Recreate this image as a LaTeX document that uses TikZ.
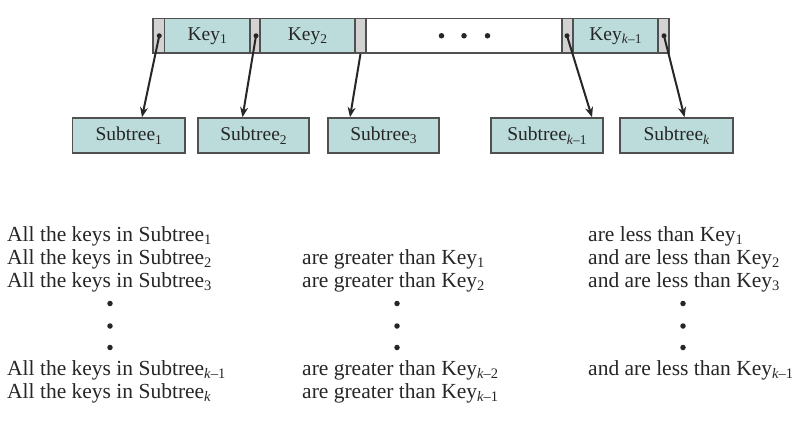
\documentclass[tikz,border=0pt]{standalone}
\usepackage{fontspec}
\setmainfont{Liberation Serif}
\usetikzlibrary{arrows.meta}
\definecolor{keyteal}{HTML}{BCDCDC}
\definecolor{ptrgray}{HTML}{D2D2D2}
\definecolor{edgegray}{HTML}{505050}
\definecolor{inkgray}{HTML}{262626}
\newcommand\lowsub[1]{\raisebox{-0.4ex}{\fontsize{14.5}{15}\selectfont #1}}
\newcommand\boxsub[1]{\raisebox{-0.4ex}{\fontsize{13.5}{14}\selectfont #1}}
\newcommand\kk{\textit{k}}
\tikzset{
  cellbox/.style={draw=edgegray, line width=1.7pt, inner sep=0pt, minimum height=34.5pt,
    font=\fontsize{19.5}{22}\selectfont, text=inkgray},
  keycell/.style={cellbox, fill=keyteal},
  ptrcell/.style={cellbox, fill=ptrgray},
  blankcell/.style={cellbox, fill=white},
  subbox/.style={draw=edgegray, line width=1.7pt, fill=keyteal, inner sep=0pt,
    minimum height=35pt, font=\fontsize{19.5}{22}\selectfont, text=inkgray},
  ptrarrow/.style={draw=inkgray, line width=2pt, -{Stealth[length=10pt,width=8pt]}},
  ptrdot/.style={circle, fill=inkgray, inner sep=0pt, minimum size=5pt},
  bigdot/.style={circle, fill=inkgray, inner sep=0pt, minimum size=5.5pt},
  rowtext/.style={anchor=base west, inner sep=0pt, font=\fontsize{21.5}{24}\selectfont, text=inkgray}
}
\begin{document}
\begin{tikzpicture}[x=1pt,y=-1pt]
\useasboundingbox (0,0) rectangle (811,421);
% top array
\node[ptrcell, minimum width=11.5pt] (p1) at (158.75,35.75) {};
\node[keycell, minimum width=85.5pt] (k1) at (207.25,35.75) {Key\boxsub{1}};
\node[ptrcell, minimum width=10pt] (p2) at (255,35.75) {};
\node[keycell, minimum width=95pt] (k2) at (307.5,35.75) {Key\boxsub{2}};
\node[ptrcell, minimum width=11pt] (p3) at (360.5,35.75) {};
\node[blankcell, minimum width=196pt] (mid) at (464,35.75) {};
\node[ptrcell, minimum width=11pt] (p4) at (567.5,35.75) {};
\node[keycell, minimum width=85pt] (k4) at (615.5,35.75) {Key\boxsub{\kk–1}};
\node[ptrcell, minimum width=11pt] (p5) at (663.5,35.75) {};
% ellipsis in the blank cell
\node[bigdot] (m1) at ([xshift=-22.5pt]mid.center) {};
\node[bigdot] (m2) at (mid.center) {};
\node[bigdot] (m3) at ([xshift=23.5pt]mid.center) {};
% pointer dots
\node[ptrdot] (d1) at ([xshift=0.5pt]p1.center) {};
\node[ptrdot] (d2) at ([xshift=1pt]p2.center) {};
\node[ptrdot] (d4) at ([xshift=-0.5pt]p4.center) {};
\node[ptrdot] (d5) at ([xshift=0.5pt]p5.center) {};
% subtrees
\node[subbox, minimum width=112.5pt] (s1) at (128.75,135.5) {Subtree\boxsub{1}};
\node[subbox, minimum width=111pt] (s2) at (253.5,135.5) {Subtree\boxsub{2}};
\node[subbox, minimum width=111pt] (s3) at (383.5,135.5) {Subtree\boxsub{3}};
\node[subbox, minimum width=112pt] (s4) at (547,135.5) {Subtree\boxsub{\kk–1}};
\node[subbox, minimum width=113pt] (s5) at (676.5,135.5) {Subtree\boxsub{\kk}};
% arrows
\draw[ptrarrow] (d1.center) -- ([xshift=13.25pt]s1.north);
\draw[ptrarrow] (d2.center) -- ([xshift=-11pt]s2.north);
\draw[ptrarrow] (p3.south) -- ([xshift=-33.5pt]s3.north);
\draw[ptrarrow] (d4.center) -- ([xshift=45pt]s4.north);
\draw[ptrarrow] (d5.center) -- ([xshift=8pt]s5.north);
% explanation rows
\node[rowtext] (a1) at (7,241) {All the keys in Subtree\lowsub{1}};
\node[rowtext] (a2) at (7,264) {All the keys in Subtree\lowsub{2}};
\node[rowtext] (a3) at (7,287) {All the keys in Subtree\lowsub{3}};
\node[rowtext] (a4) at (7,375) {All the keys in Subtree\lowsub{\kk–1}};
\node[rowtext] (a5) at (7,398) {All the keys in Subtree\lowsub{\kk}};
\node[rowtext] (b2) at (302,264) {are greater than Key\lowsub{1}};
\node[rowtext] (b3) at (302,287) {are greater than Key\lowsub{2}};
\node[rowtext] (b4) at (302,375) {are greater than Key\lowsub{\kk–2}};
\node[rowtext] (b5) at (302,398) {are greater than Key\lowsub{\kk–1}};
\node[rowtext] (c1) at (588,241) {are less than Key\lowsub{1}};
\node[rowtext] (c2) at (588,264) {and are less than Key\lowsub{2}};
\node[rowtext] (c3) at (588,287) {and are less than Key\lowsub{3}};
\node[rowtext] (c4) at (588,375) {and are less than Key\lowsub{\kk–1}};
% vertical ellipses
\foreach \cx/\nm in {110/a, 397/b, 683/c}{
  \node[bigdot] (\nm v1) at (\cx,303.5) {};
  \node[bigdot] (\nm v2) at (\cx,326) {};
  \node[bigdot] (\nm v3) at (\cx,347.5) {};
}
\end{tikzpicture}
\end{document}
